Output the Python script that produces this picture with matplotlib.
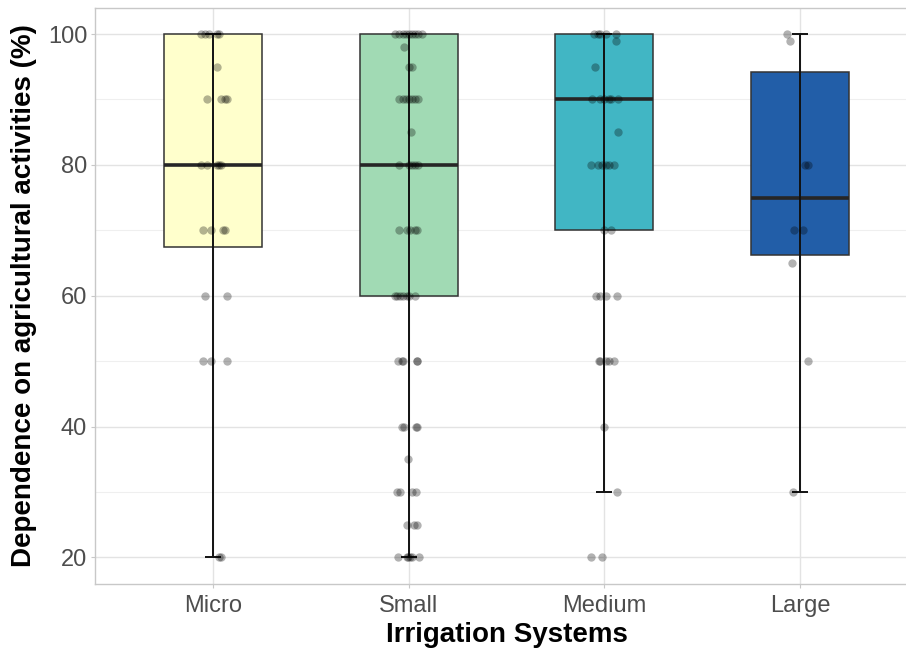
import matplotlib
matplotlib.use("Agg")
import matplotlib.pyplot as plt
from matplotlib.ticker import MultipleLocator

plt.rcParams['font.family'] = ['Liberation Sans', 'DejaVu Sans']

categories = ["Micro", "Small", "Medium", "Large"]
box_colors = ["#FFFFCC", "#A1DAB4", "#41B6C4", "#225EA8"]

# box statistics
q1 = [67.5, 60, 70, 66.25]
medians = [80, 80, 90, 75]
q3 = [100, 100, 100, 94.2]
whisker_lo = [20, 20, 30, 30]
whisker_hi = [100, 100, 100, 100]

# individual observations (values) and their horizontal jitter (category units)
micro_vals = [100, 100, 100, 100, 100, 95, 90, 90, 90, 90, 80, 80, 80, 80, 80,
              70, 70, 70, 70, 60, 60, 50, 50, 50, 20, 20]
micro_jit = [-0.06, -0.04, -0.02, 0.02, 0.03, 0.02, -0.03, 0.04, 0.06, 0.07,
             -0.06, -0.03, 0.02, 0.03, 0.04, -0.05, -0.01, 0.05, 0.06,
             -0.04, 0.07, -0.05, -0.01, 0.07, 0.03, 0.04]

small_vals = [100, 100, 100, 100, 100, 100, 100, 100, 100, 98, 95, 95,
              90, 90, 90, 90, 90, 90, 90, 85, 80, 80, 80, 80, 80,
              70, 70, 70, 70, 70, 60, 60, 60, 60, 60, 60, 60,
              50, 50, 50, 50, 50, 40, 40, 40, 40, 35, 30, 30, 30, 30,
              25, 25, 25, 20, 20, 20, 20, 20, 20]
small_jit = [-0.07, -0.05, -0.03, -0.015, 0.0, 0.015, 0.03, 0.05, 0.07, -0.025, 0.0, 0.015,
             -0.05, -0.03, -0.015, 0.0, 0.015, 0.03, 0.05, 0.01, -0.05, 0.0, 0.015, 0.03, 0.05,
             -0.05, -0.01, 0.005, 0.03, 0.04, -0.07, -0.06, -0.045, -0.03, -0.01, 0.0, 0.03,
             -0.055, -0.035, -0.03, 0.04, 0.045, -0.035, -0.025, 0.035, 0.045, -0.005,
             -0.06, -0.045, 0.015, 0.035, -0.01, 0.025, 0.04,
             -0.055, -0.01, -0.005, 0.005, 0.015, 0.055]

medium_vals = [100, 100, 100, 100, 100, 99, 95, 90, 90, 90, 90, 90, 90, 85,
               80, 80, 80, 80, 80, 80, 70, 70, 60, 60, 60, 60,
               50, 50, 50, 50, 50, 40, 30, 20, 20]
medium_jit = [-0.055, -0.035, -0.02, 0.01, 0.06, 0.06, -0.05,
              -0.065, -0.02, 0.0, 0.025, 0.035, 0.07, 0.07,
              -0.07, -0.035, -0.01, 0.01, 0.025, 0.05, 0.0, 0.035,
              -0.045, -0.025, 0.01, 0.065, -0.03, -0.02, 0.01, 0.025, 0.05,
              0.0, 0.065, -0.07, -0.01]

large_vals = [100, 99, 80, 80, 70, 70, 65, 50, 30]
large_jit = [-0.065, -0.05, 0.025, 0.04, -0.03, 0.015, -0.04, 0.04, -0.035]

group_vals = [micro_vals, small_vals, medium_vals, large_vals]
group_jit = [micro_jit, small_jit, medium_jit, large_jit]

x_title = "Irrigation Systems"
y_title = "Dependence on agricultural activities (%)"

fig = plt.figure(figsize=(9.06, 6.48), dpi=100)
ax = fig.add_axes([0.1054, 0.0995, 0.9074, 0.8884])

positions = list(range(1, len(categories) + 1))

# grid
ax.set_axisbelow(True)
ax.yaxis.set_major_locator(MultipleLocator(20))
ax.yaxis.set_minor_locator(MultipleLocator(10))
ax.grid(which='major', axis='both', color='#E3E3E3', linewidth=1.0)
ax.grid(which='minor', axis='y', color='#EFEFEF', linewidth=0.8)

stats = []
for i, cat in enumerate(categories):
    stats.append(dict(label=cat, q1=q1[i], med=medians[i], q3=q3[i],
                      whislo=whisker_lo[i], whishi=whisker_hi[i], fliers=[]))

bp = ax.bxp(stats, positions=positions, widths=0.5, patch_artist=True,
            showfliers=False, showcaps=False,
            boxprops=dict(edgecolor='#333333', linewidth=1.1),
            medianprops=dict(color='#262626', linewidth=2.6),
            whiskerprops=dict(linewidth=0), zorder=2)
for patch, c in zip(bp['boxes'], box_colors):
    patch.set_facecolor(c)

# errorbar whiskers (drawn over boxes)
err_lo = [m - lo for m, lo in zip(medians, whisker_lo)]
err_hi = [hi - m for m, hi in zip(medians, whisker_hi)]
ax.errorbar(positions, medians, yerr=[err_lo, err_hi], fmt='none',
            ecolor='#111111', elinewidth=1.4, capsize=6, capthick=1.4, zorder=3)

# jittered points
for pos, vals, jit in zip(positions, group_vals, group_jit):
    xs = [pos + j for j in jit]
    ax.scatter(xs, vals, s=36, color='black', alpha=0.3, linewidths=0, zorder=4)

ax.set_xlim(0.4, 4.6)
ax.set_ylim(16, 104)
ax.set_xticks(positions)
ax.set_xticklabels(categories)

for side in ['left', 'bottom', 'top', 'right']:
    ax.spines[side].set_color('#C8C8C8')
    ax.spines[side].set_linewidth(1.0)

ax.tick_params(axis='both', which='major', colors='#C8C8C8', length=3,
               width=0.8, labelsize=17, labelcolor='#4D4D4D', pad=3)
ax.tick_params(axis='y', which='minor', length=0)
ax.tick_params(axis='x', pad=5)

ax.set_xlabel(x_title, fontsize=20, fontweight='bold', color='black', labelpad=4)
ax.set_ylabel(y_title, fontsize=20, fontweight='bold', color='black', labelpad=8)

fig.savefig("out.png", dpi=100)
